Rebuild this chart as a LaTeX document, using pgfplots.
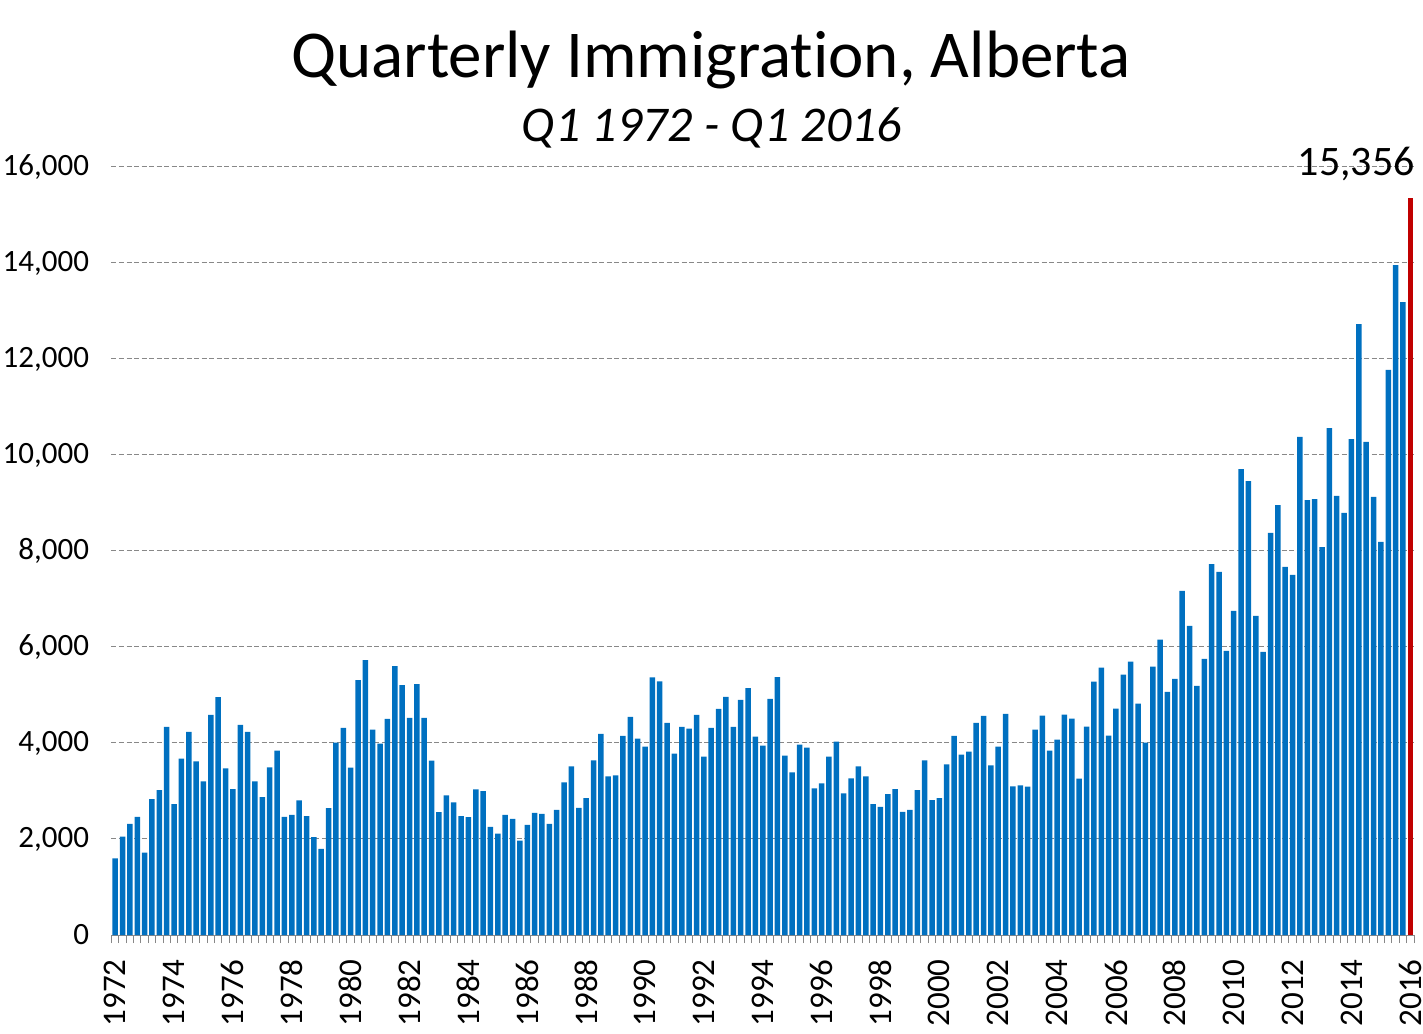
\documentclass[border=0pt]{standalone}
\usepackage{pgfplots}
\usepackage{pgfplotstable}
\pgfplotsset{compat=1.18}
\usepackage{fontspec}
\setmainfont{Carlito}[Ligatures=NoCommon]
\definecolor{barblue}{HTML}{0070C0}
\definecolor{barred}{HTML}{C00000}
\definecolor{gridgray}{HTML}{888888}
\pgfplotstableread[row sep=\\]{v\\
1595\\2048\\2316\\2460\\1718\\2832\\3017\\4337\\
2728\\3677\\4234\\3615\\3203\\4584\\4955\\3471\\
3038\\4378\\4234\\3203\\2873\\3491\\3842\\2460\\
2500\\2806\\2475\\2040\\1792\\2641\\4007\\4317\\
3489\\5311\\5725\\4276\\3986\\4504\\5601\\5208\\
4524\\5228\\4524\\3634\\2558\\2910\\2765\\2475\\
2456\\3036\\2995\\2254\\2110\\2502\\2419\\1966\\
2295\\2543\\2522\\2316\\2605\\3182\\3512\\2646\\
2852\\3636\\4192\\3306\\3326\\4151\\4543\\4089\\
3924\\5368\\5285\\4419\\3779\\4338\\4297\\4587\\
3717\\4317\\4711\\4959\\4338\\4897\\5145\\4131\\
3945\\4917\\5373\\3738\\3386\\3966\\3903\\3055\\
3158\\3717\\4028\\2953\\3265\\3512\\3306\\2729\\
2667\\2935\\3038\\2564\\2605\\3017\\3636\\2811\\
2852\\3553\\4151\\3759\\3821\\4419\\4564\\3533\\
3924\\4605\\3095\\3115\\3090\\4278\\4569\\3840\\
4069\\4590\\4507\\3257\\4340\\5278\\5569\\4153\\
4715\\5424\\5694\\4819\\4007\\5590\\6153\\5066\\
5336\\7170\\6440\\5190\\5750\\7729\\7563\\5917\\
6750\\9708\\9458\\6646\\5896\\8375\\8958\\7667\\
7500\\10375\\9062\\9083\\8083\\10562\\9146\\8792\\
10333\\12729\\10271\\9125\\8188\\11771\\13958\\13187\\
}\immig
\begin{document}
\begin{tikzpicture}
\useasboundingbox (0,0) rectangle (1423pt,1033pt);
\begin{axis}[
  at={(111.5pt,98pt)}, anchor=south west,
  scale only axis, width=1302.5pt, height=768pt,
  xmin=-0.5, xmax=176.5, ymin=0, ymax=16000,
  axis x line*=bottom, axis y line*=left,
  x axis line style={-, draw=gridgray, line width=1pt},
  y axis line style={draw=none},
  ytick={0,2000,...,16000},
  ymajorgrids,
  grid style={draw=gridgray, line width=1pt, dash pattern=on 5pt off 2.5pt},
  ytick style={draw=none},
  scaled y ticks=false,
  /pgf/number format/.cd, 1000 sep={,}, assume math mode=true,
  /pgfplots/.cd,
  yticklabel style={font=\fontsize{31}{33}\selectfont, xshift=-19pt},
  xtick={0,8,...,176},
  xticklabels={1972,1974,1976,1978,1980,1982,1984,1986,1988,1990,1992,1994,1996,1998,2000,2002,2004,2006,2008,2010,2012,2014,2016},
  minor xtick={-0.5,0.5,...,176.5},
  tick align=outside,
  major tick length=0pt,
  minor tick length=8pt,
  xtick style={draw=gridgray, line width=1pt},
  xticklabel style={font=\fontsize{33}{34}\selectfont, rotate=90, anchor=east, xshift=-21pt},
]
\addplot[ybar, bar width=5.5pt, fill=barblue, draw=none] table[x expr=\coordindex, y=v] {\immig};
\addplot[ybar, bar width=5.5pt, fill=barred, draw=none] coordinates {(176,15356)};
\end{axis}
\node[anchor=base, font=\fontsize{67}{70}\selectfont] at (711pt,955pt) {Quarterly Immigration, Alberta};
\node[anchor=base, font=\fontsize{50}{52}\selectfont\itshape] at (712pt,891pt) {Q1 1972 - Q1 2016};
\node[anchor=base east, inner sep=0pt, font=\fontsize{42}{44}\selectfont] at (1415pt,857pt) {15,356};
\end{tikzpicture}
\end{document}
